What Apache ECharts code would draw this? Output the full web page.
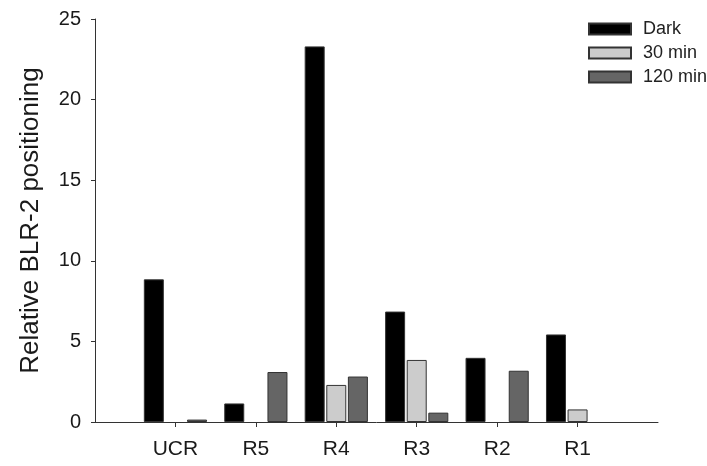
<!DOCTYPE html>
<html><head><meta charset="utf-8">
<script src="https://cdn.jsdelivr.net/npm/echarts@6/dist/echarts.min.js"></script>
<style>html,body{margin:0;padding:0;background:#fff}#c{width:707px;height:466px}</style>
</head><body><div id="c"></div>
<script>
var categories = ['UCR', 'R5', 'R4', 'R3', 'R2', 'R1'];
var seriesNames = ['Dark', '30 min', '120 min'];
var darkValues = [8.85, 1.15, 23.3, 6.85, 3.98, 5.43];
var min30Values = [null, null, 2.3, 3.85, null, 0.78];
var min120Values = [0.15, 3.1, 2.82, 0.58, 3.18, null];
var yTicks = [0, 5, 10, 15, 20, 25];

var padded = [''].concat(categories).concat(['']);
function pad(a){ return [null].concat(a).concat([null]); }
var colors = ['#000000', '#cccccc', '#656565'];
var font = 'Liberation Sans, Arial, sans-serif';
function mk(name, data, i){
  return {name: name, type: 'bar', data: pad(data), barWidth: 20, barGap: '8%',
    itemStyle: {color: colors[i], borderColor: '#333333', borderWidth: 1}};
}
var chart = echarts.init(document.getElementById('c'));
chart.setOption({
  animation: false,
  grid: {left: 95, right: 49, top: 19, bottom: 44, containLabel: false},
  legend: {orient: 'vertical', left: 583, top: 15, itemWidth: 42, itemHeight: 11, itemGap: 6,
    icon: 'rect', data: seriesNames,
    textStyle: {fontFamily: font, fontSize: 18, color: '#222', padding: [0,0,0,7]}},
  xAxis: {type: 'category', data: padded, boundaryGap: false,
    axisLine: {lineStyle: {color: '#333', width: 1}},
    axisTick: {length: 5, interval: function(i){ return i > 0 && i < padded.length - 1; }, lineStyle: {color: '#333'}},
    axisLabel: {margin: 17, fontFamily: font, fontSize: 21, color: '#1a1a1a', interval: 0}},
  yAxis: {type: 'value', min: yTicks[0], max: yTicks[yTicks.length-1], interval: 5,
    name: 'Relative BLR-2 positioning', nameLocation: 'middle', nameGap: 51, nameRotate: 90,
    nameTextStyle: {fontFamily: font, fontSize: 26, color: '#1a1a1a'},
    axisLine: {show: true, lineStyle: {color: '#333', width: 1}},
    axisTick: {show: true, length: 4, lineStyle: {color: '#333'}},
    splitLine: {show: false},
    axisLabel: {margin: 14, fontFamily: font, fontSize: 20, color: '#1a1a1a'}},
  series: [mk(seriesNames[0], darkValues, 0), mk(seriesNames[1], min30Values, 1), mk(seriesNames[2], min120Values, 2)]
});
</script></body></html>
